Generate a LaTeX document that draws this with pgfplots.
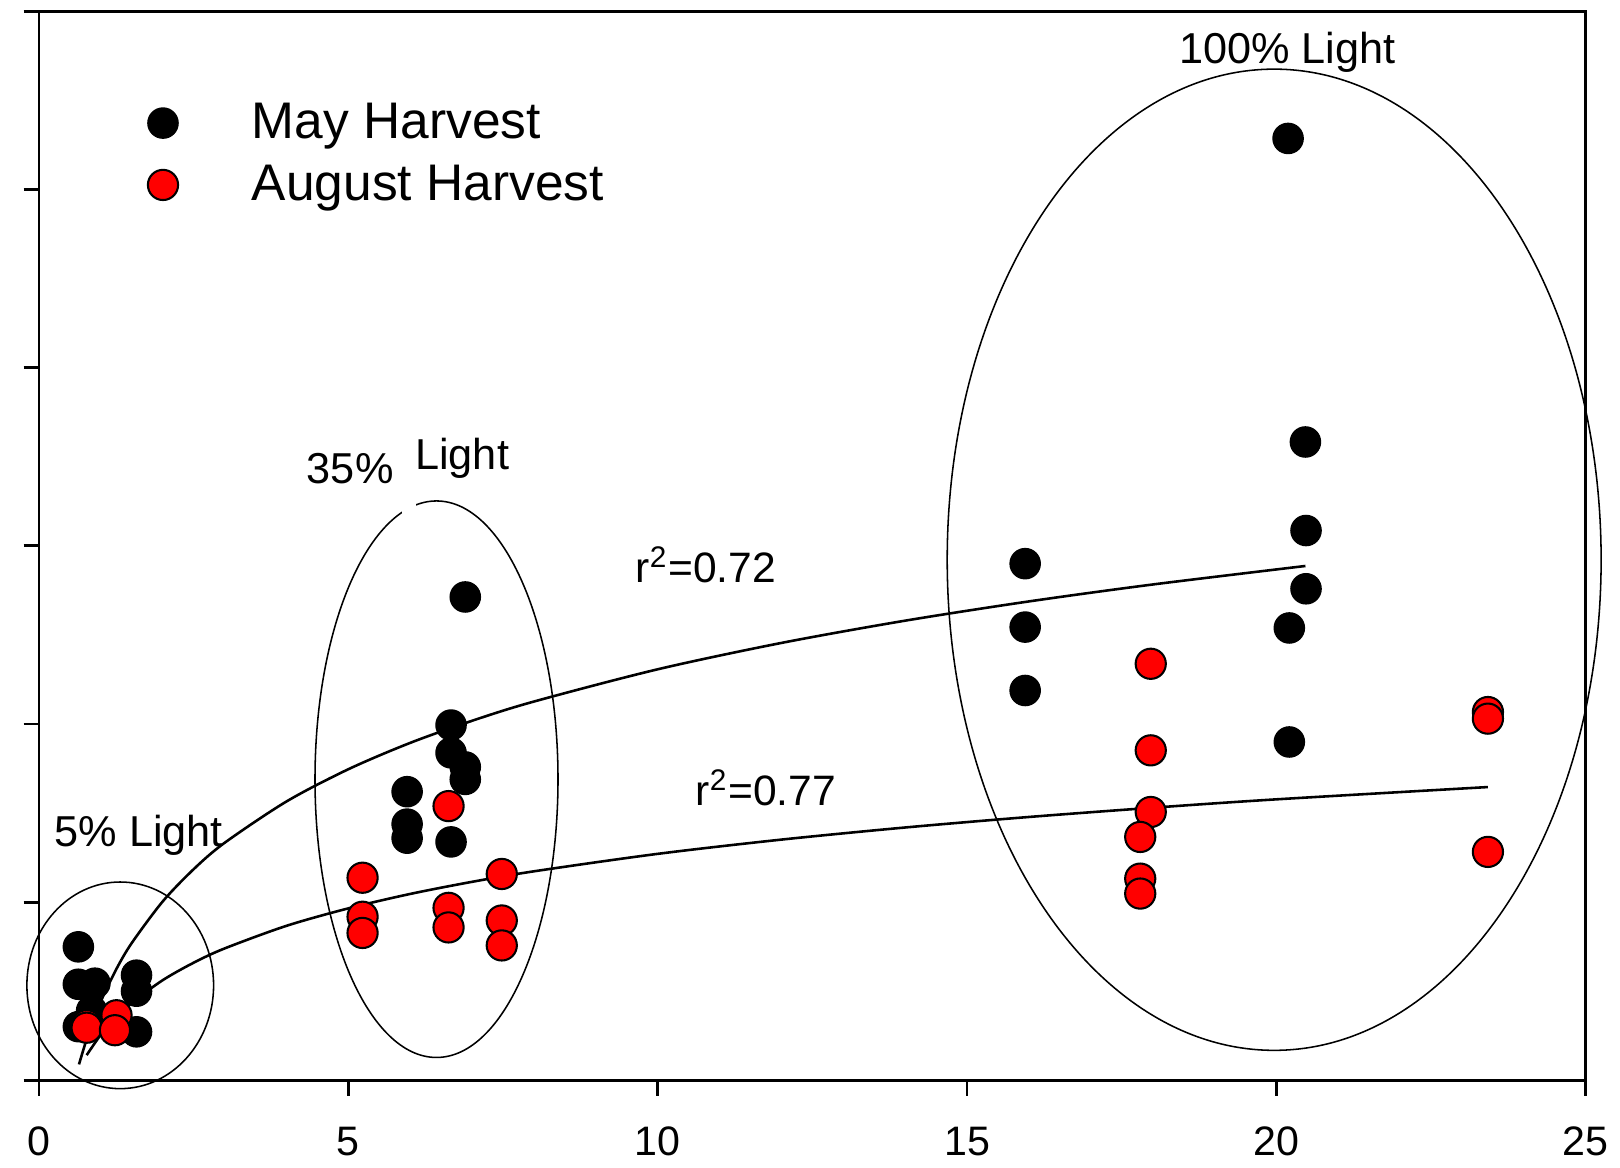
\documentclass[border=0pt]{standalone}
\usepackage{fontspec}
\setmainfont{Liberation Sans}
\usepackage{pgfplots}
\pgfplotsset{compat=1.18}
\begin{document}
\begin{tikzpicture}
\begin{axis}[
  scale only axis, width=450.6pt, height=311.4pt,
  xmin=0, xmax=25, ymin=0, ymax=6,
  xtick={0,5,10,15,20,25}, ytick={0,1,2,3,4,5,6}, yticklabels={},
  tick pos=left, tick align=outside, major tick length=4.5pt,
  axis line style={line width=0.85pt},
  every tick/.style={line width=0.85pt, black},
  /pgf/number format/assume math mode=true,
  ticklabel style={font=\fontsize{12}{14}\selectfont},
  xticklabel style={yshift=-5.5pt},
  clip=false,
  legend cell align=left,
  legend style={draw=none, fill=none, at={(0.0633,0.928)}, anchor=north west,
    font=\fontsize{15}{18}\selectfont, row sep=2.2pt,
    /tikz/every odd column/.append style={column sep=19.5pt}},
]
\path (rel axis cs:-0.024,-0.081) rectangle (rel axis cs:1.020,1.0087);
% ellipses
\draw[line width=0.45pt] (axis cs:1.313,0.533) ellipse [x radius=1.509, y radius=0.580];
\draw[line width=0.45pt] (axis cs:6.425,1.690) ellipse [x radius=1.964, y radius=1.562];
\fill[white] (axis cs:5.86,3.12) rectangle (axis cs:6.10,3.30);
\draw[line width=0.45pt] (axis cs:19.965,2.922) ellipse [x radius=5.285, y radius=2.754];

\addplot[only marks, mark=*, mark size=4.4pt, mark options={fill=black, draw=black}] coordinates {
(0.636,0.749) (0.636,0.539) (0.904,0.545) (1.576,0.590) (1.576,0.500) (0.636,0.301) (1.576,0.272) (0.85,0.39)
(6.89,2.713) (6.66,1.994) (6.66,1.838) (6.89,1.759) (6.89,1.689)
(5.95,1.620) (5.95,1.438) (5.95,1.359) (6.66,1.338)
(20.19,5.287) (20.47,3.583) (20.48,3.086) (20.48,2.759) (20.21,2.539) (20.21,1.899)
(15.94,2.900) (15.94,2.544) (15.94,2.188)
};
\addlegendentry{May Harvest}
\addplot[only marks, mark=*, mark size=4.4pt, mark options={fill=red, draw=black, line width=0.6pt}] coordinates {
(0.77,0.309) (0.77,0.295) (1.253,0.365) (1.227,0.281)
(6.62,1.539) (5.23,1.137) (5.23,0.918) (5.23,0.827) (6.62,0.968) (6.62,0.858)
(7.48,1.158) (7.48,0.897) (7.48,0.757)
(17.97,2.338) (17.97,1.852) (17.97,1.506) (17.80,1.366) (17.80,1.132) (17.80,1.048)
(23.42,2.067) (23.42,2.030) (23.42,1.282)
};
\addlegendentry{August Harvest}

% fitted curves
\addplot[forget plot, black, line width=0.75pt, smooth] coordinates {
(0.646,0.089) (0.8,0.262) (1.0,0.443) (1.25,0.624) (1.5,0.771) (2,1.004) (2.5,1.185) (3,1.333)
(4,1.565) (5,1.746) (6,1.894) (7,2.018) (8,2.126) (10,2.307) (12,2.455) (14,2.580) (16,2.688) (18,2.783) (20.47,2.887)
};
\addplot[forget plot, black, line width=0.75pt, smooth] coordinates {
(0.77,0.141) (1.0,0.256) (1.25,0.354) (1.5,0.435) (2,0.562) (2.5,0.660) (3,0.740) (4,0.867)
(5,0.965) (6,1.046) (7,1.114) (8,1.173) (10,1.271) (12,1.351) (14,1.419) (16,1.478) (18,1.530) (20,1.577) (23.42,1.646)
};

% annotations
\node[font=\fontsize{12.6}{14}\selectfont] at (axis cs:20.18,5.77) {100\% Light};
\node[font=\fontsize{12.6}{14}\selectfont] at (axis cs:5.03,3.432) {35\%};
\node[font=\fontsize{12.6}{14}\selectfont] at (axis cs:6.84,3.49) {Light};
\node[font=\fontsize{12.6}{14}\selectfont] at (axis cs:1.615,1.374) {5\% Light};
\node[font=\fontsize{12.4}{14}\selectfont, anchor=west] at (axis cs:9.45,2.893) {r\textsuperscript{2}=0.72};
\node[font=\fontsize{12.4}{14}\selectfont, anchor=west] at (axis cs:10.42,1.641) {r\textsuperscript{2}=0.77};
\end{axis}
\end{tikzpicture}
\end{document}
